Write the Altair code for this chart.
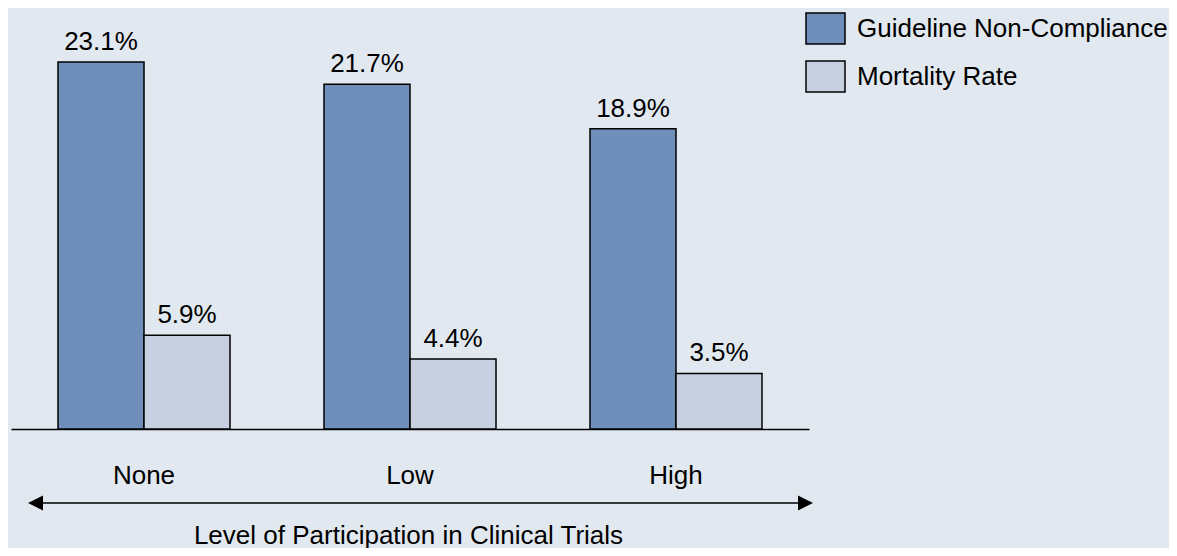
import altair as alt
import pandas as pd

# ---- data ----
categories = ["None", "Low", "High"]
series = ["Guideline Non-Compliance", "Mortality Rate"]
noncompliance = [23.1, 21.7, 18.9]
mortality = [5.9, 4.4, 3.5]

colors = ["#6F8FBA", "#C6D0E1"]
bg = "#E1E8EF"
FONT = "Liberation Sans"

rows = []
for c, v in zip(categories, noncompliance):
    rows.append({"level": c, "series": series[0], "value": v, "label": f"{v:.1f}%"})
for c, v in zip(categories, mortality):
    rows.append({"level": c, "series": series[1], "value": v, "label": f"{v:.1f}%"})
df = pd.DataFrame(rows)

W, H = 798, 421
p_in = 1 - 172 / 266

x_enc = alt.X(
    "level:N",
    sort=categories,
    scale=alt.Scale(paddingInner=p_in, paddingOuter=p_in / 2),
    axis=alt.Axis(
        title="Level of Participation in Clinical Trials",
        domain=True, domainColor="black", domainWidth=1.5,
        ticks=False, tickSize=0, grid=False,
        labelAngle=0, labelFontSize=26, labelFont=FONT, labelColor="black",
        labelBaseline="alphabetic", labelPadding=54,
        titleFontSize=26, titleFont=FONT, titleColor="black", titleFontWeight="normal",
        titleBaseline="alphabetic", titleY=114, titleX=W / 2 - 2,
    ),
)
xo_enc = alt.XOffset("series:N", sort=series, scale=alt.Scale(paddingInner=0, paddingOuter=0))
y_enc = alt.Y("value:Q", scale=alt.Scale(domain=[0, 26.5], nice=False, zero=True), axis=None)

base = alt.Chart(df)

bars = base.mark_bar(stroke="black", strokeWidth=1.5, opacity=1).encode(
    x=x_enc,
    xOffset=xo_enc,
    y=y_enc,
    color=alt.Color(
        "series:N",
        sort=series,
        scale=alt.Scale(domain=series, range=colors),
        legend=alt.Legend(
            title=None, orient="none", legendX=794, legendY=0,
            symbolType="M-1,-0.795H1V0.795H-1Z", symbolSize=1521,
            symbolStrokeColor="black", symbolStrokeWidth=1.5, symbolOpacity=1,
            labelFontSize=26, labelFont=FONT, labelColor="black",
            labelOffset=11, rowPadding=8, labelLimit=600, padding=0,
            direction="vertical",
        ),
    ),
)

labels = base.mark_text(
    baseline="alphabetic", dy=-12, fontSize=26, font=FONT, color="black"
).encode(x=x_enc, xOffset=xo_enc, y=y_enc, text="label:N")

one = alt.Chart(pd.DataFrame({"k": [0]}))
arrow_line = one.mark_rule(color="black", strokeWidth=1.5).encode(
    x=alt.value(20), x2=alt.value(800), y=alt.value(495)
)
head_left = one.mark_point(
    shape="M1,-1L-1,0L1,1Z", filled=True, size=225, color="black", opacity=1, strokeWidth=0
).encode(x=alt.value(24.5), y=alt.value(495))
head_right = one.mark_point(
    shape="M-1,-1L1,0L-1,1Z", filled=True, size=225, color="black", opacity=1, strokeWidth=0
).encode(x=alt.value(794.5), y=alt.value(495))

chart = (
    alt.layer(bars, labels, arrow_line, head_left, head_right)
    .properties(
        width=W, height=H,
        background=bg,
        padding={"left": 3, "top": 0, "right": 360, "bottom": 119},
        autosize=alt.AutoSizeParams(type="none"),
    )
    .configure_view(strokeWidth=0)
)

chart.save("out.html", embed_options={"renderer": "svg", "actions": False})
